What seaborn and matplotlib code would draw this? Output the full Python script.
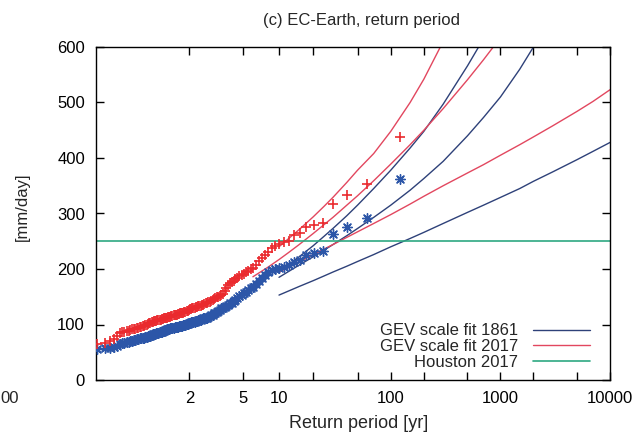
import numpy as np
import pandas as pd
import matplotlib
matplotlib.use("Agg")
import matplotlib.pyplot as plt
import seaborn as sns

# Annual maximum daily precipitation (mm/day), sorted from smallest to largest
precip_1861 = [
    56, 57, 58, 60, 62, 65, 66, 67, 68, 69,
    70, 71, 72, 72, 73, 74, 75, 75, 76, 76,
    77, 78, 79, 80, 80, 81, 82, 83, 83, 84,
    85, 85, 86, 87, 87, 88, 89, 90, 90, 91,
    92, 92, 93, 93, 94, 94, 95, 95, 96, 96,
    97, 97, 98, 98, 99, 99, 100, 101, 101, 102,
    103, 104, 104, 105, 105, 106, 107, 108, 108, 109,
    110, 111, 111, 112, 112, 113, 115, 117, 118, 120,
    121, 123, 125, 127, 129, 130, 132, 134, 136, 138,
    139, 142, 145, 148, 151, 153, 156, 159, 162, 165,
    168, 173, 178, 184, 190, 195, 198, 200, 202, 204,
    207, 212, 216, 225, 229, 232, 263, 276, 292, 362,
]
precip_2017 = [
    65, 67, 70, 74, 80, 85, 86, 87, 88, 89,
    90, 91, 92, 92, 93, 94, 95, 96, 97, 98,
    99, 100, 101, 102, 103, 104, 105, 106, 106, 107,
    108, 108, 109, 109, 110, 110, 111, 111, 112, 112,
    113, 113, 114, 115, 116, 117, 117, 118, 118, 119,
    119, 120, 120, 121, 121, 122, 123, 124, 125, 126,
    128, 128, 129, 130, 130, 131, 132, 133, 133, 134,
    135, 136, 137, 138, 139, 140, 141, 142, 144, 146,
    148, 149, 150, 152, 154, 155, 160, 166, 171, 175,
    177, 179, 182, 184, 187, 189, 191, 194, 197, 200,
    202, 208, 214, 220, 226, 231, 237, 241, 245, 248,
    250, 261, 265, 276, 279, 283, 317, 333, 353, 437,
]

# GEV scale fits with 95% bounds, evaluated at these return periods (yr)
fit_periods = [6, 8, 10, 12, 15, 20, 25, 30, 40, 50, 70, 100, 150, 200,
               300, 500, 700, 1000, 1500, 2000, 3000, 5000, 7000, 10000]
nan = np.nan
fit_1861_low = [nan, nan, 153, 160, 168.5, 179, 187.5, 194.5, 205, 213.5, 226, 240,
                255, 266, 282, 302, 315, 329, 345, 358, 375, 397, 412, 428]
fit_1861_mid = [nan, nan, 185, 195, 207, 222, 234, 244, 260, 273, 293, 315,
                342, 363, 394, 440, 473, 510, 560, 600, 660, nan, nan, nan]
fit_1861_high = [nan, nan, 195, 207, 222, 242, 259, 273, 296, 315, 345, 378,
                 418, 448, 497, 566, 615, nan, nan, nan, nan, nan, nan, nan]
fit_2017_low = [nan, nan, 194, 202.5, 213, 226, 236, 244, 257, 267, 282, 298,
                317, 331, 350, 373, 388, 405, 424, 438, 458, 484, 502, 523]
fit_2017_mid = [186, 203, 217, 229, 244, 264, 280, 293, 315, 332, 359, 389,
                424, 450, 489, 541, 577, 617, nan, nan, nan, nan, nan, nan]
fit_2017_high = [nan, nan, 240, 254, 271, 294, 313, 329, 356, 378, 408, 448,
                 500, 542, 610, nan, nan, nan, nan, nan, nan, nan, nan, nan]
houston_2017 = 250

x_ticks = [2, 5, 10, 20, 50, 100, 200, 500, 1000, 2000, 5000, 10000]
x_ticklabels = ["2", "5", "10", "", "", "100", "", "", "1000", "", "", "10000"]
y_ticks = [0, 100, 200, 300, 400, 500, 600]

c_pts_1861 = "#2c56a8"
c_pts_2017 = "#ea2a2e"
c_fit_1861 = "#2e4179"
c_fit_2017 = "#e2475f"
c_houston = "#2ea882"

sns.set_style("ticks")
plt.rcParams["font.family"] = ["Liberation Sans", "DejaVu Sans"]


def gumbel(t):
    t = np.clip(np.asarray(t, dtype=float), 1.0 + 1e-9, None)
    return -np.log(-np.log(1.0 - 1.0 / t))


def gumbel_inv(g):
    g = np.asarray(g, dtype=float)
    return 1.0 / (1.0 - np.exp(-np.exp(-g)))


fig = plt.figure(figsize=(6.41, 4.36), dpi=100)
ax = fig.add_axes([96 / 641, 1 - 380 / 436, 514 / 641, 333 / 436])
ax.set_xscale("function", functions=(gumbel, gumbel_inv))

# Empirical return periods from rank
n = len(precip_1861)
rank = np.arange(n, 0, -1)
period = (n + 1) / rank
df_pts = pd.DataFrame({"period": period, "p1861": precip_1861, "p2017": precip_2017})

sns.scatterplot(data=df_pts, x="period", y="p1861", ax=ax, marker=(8, 2, 0),
                s=48, color=c_pts_1861, linewidth=1.0, zorder=3)
sns.scatterplot(data=df_pts, x="period", y="p2017", ax=ax, marker="+",
                s=55, color=c_pts_2017, linewidth=1.2, zorder=3)

fits = [
    (fit_1861_low, c_fit_1861, None),
    (fit_1861_mid, c_fit_1861, None),
    (fit_1861_high, c_fit_1861, "GEV scale fit 1861"),
    (fit_2017_low, c_fit_2017, None),
    (fit_2017_mid, c_fit_2017, None),
    (fit_2017_high, c_fit_2017, "GEV scale fit 2017"),
]
for values, color, label in fits:
    d = pd.DataFrame({"period": fit_periods, "value": values}).dropna()
    sns.lineplot(data=d, x="period", y="value", ax=ax, color=color, lw=1.0,
                 estimator=None, sort=False, label=label, zorder=2)

ax.axhline(houston_2017, color=c_houston, lw=1.2, label="Houston 2017", zorder=2)

ax.set_xlim(1.0072, 10000)
ax.set_ylim(0, 600)
ax.set_xticks(x_ticks)
ax.set_xticklabels(x_ticklabels)
ax.xaxis.set_minor_locator(matplotlib.ticker.NullLocator())
ax.set_yticks(y_ticks)
ax.tick_params(axis="both", which="both", direction="in", length=6, width=1,
               top=True, right=True, labelsize=12, pad=8, colors="black")
for s in ax.spines.values():
    s.set_linewidth(1.0)
    s.set_color("black")

ax.set_title("(c) EC-Earth, return period", fontsize=12, pad=16, x=0.516)
ax.set_xlabel("Return period [yr]", fontsize=13)
ax.set_ylabel("[mm/day]", fontsize=12)
ax.xaxis.set_label_coords(0.51, -0.105)
ax.yaxis.set_label_coords(-0.128, 0.52)

leg = ax.legend(loc="lower right", bbox_to_anchor=(0.961, 0.03), frameon=False,
                markerfirst=False, fontsize=12, handlelength=3.4, handletextpad=0.9,
                labelspacing=0.05, borderpad=0, borderaxespad=0)

fig.text(0, 1 - 398 / 436, "00", ha="left", va="center", fontsize=12)

fig.savefig("out.png", dpi=100)
